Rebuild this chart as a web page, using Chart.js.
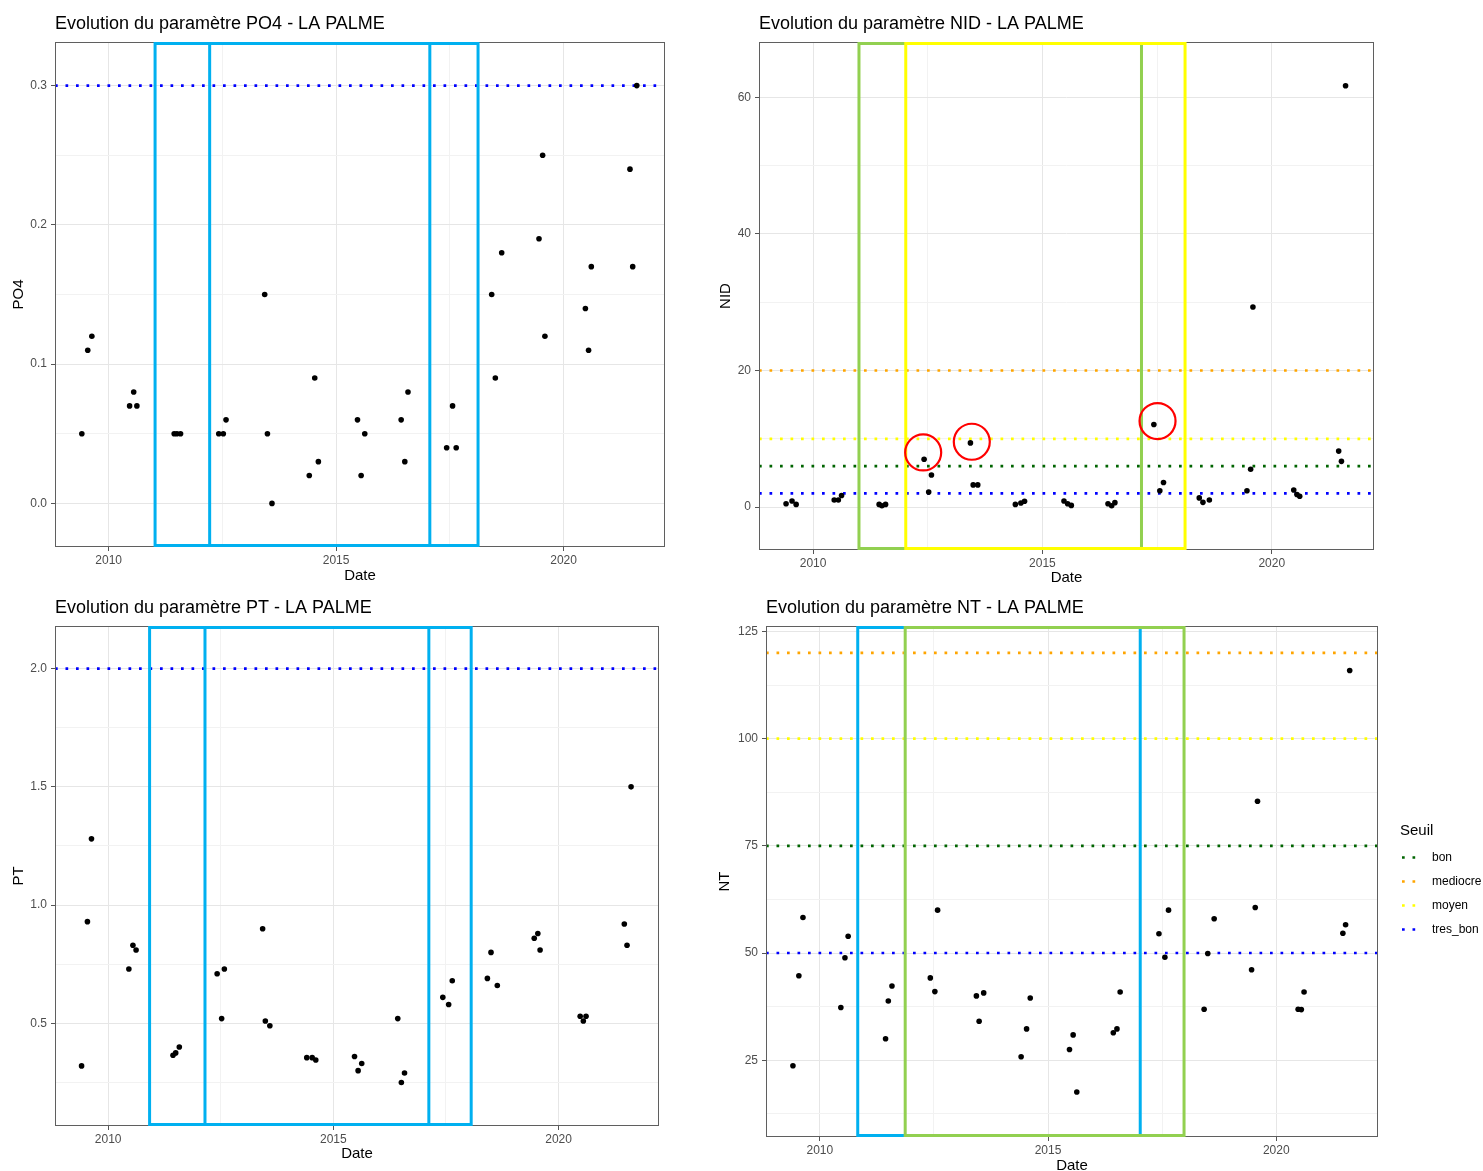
<!DOCTYPE html>
<html>
<head>
<meta charset="utf-8">
<title>Evolution des paramètres - LA PALME</title>
<script src="https://cdn.jsdelivr.net/npm/chart.js@4.4.1/dist/chart.umd.min.js"></script>
<style>
  html, body { margin: 0; padding: 0; background: #ffffff; overflow: hidden; }
  canvas { position: absolute; }
</style>
</head>
<body>
<canvas id="chart-po4" width="680" height="590" style="left:0px; top:0px;"></canvas>
<canvas id="chart-nid" width="690" height="595" style="left:700px; top:0px;"></canvas>
<canvas id="chart-pt" width="680" height="581" style="left:0px; top:590px;"></canvas>
<canvas id="chart-nt" width="783" height="600" style="left:700px; top:590px;"></canvas>
<script>
// sampling dates as decimal years (3 campaigns a year)
const sampleDates = [
    2009.41, 2009.54, 2009.63,
    2010.46, 2010.55, 2010.62,
    2011.44, 2011.50, 2011.58,
    2012.42, 2012.52, 2012.58,
    2013.43, 2013.49, 2013.59,
    2014.41, 2014.53, 2014.61,
    2015.47, 2015.55, 2015.63,
    2016.43, 2016.51, 2016.58,
    2017.43, 2017.56, 2017.64,
    2018.42, 2018.50, 2018.64,
    2019.46, 2019.54, 2019.59,
    2020.48, 2020.55, 2020.61,
    2021.46, 2021.52, 2021.61
];

const po4Values = [
    0.05, 0.11, 0.12,
    0.07, 0.08, 0.07,
    0.05, 0.05, 0.05,
    0.05, 0.05, 0.06,
    0.15, 0.05, 0.00,
    0.02, 0.09, 0.03,
    0.06, 0.02, 0.05,
    0.06, 0.03, 0.08,
    0.04, 0.07, 0.04,
    0.15, 0.09, 0.18,
    0.19, 0.25, 0.12,
    0.14, 0.11, 0.17,
    0.24, 0.17, 0.30
];

const nidValues = [
    0.5, 0.9, 0.4,
    1.05, 1.05, 1.7,
    0.4, 0.2, 0.4,
    7.0, 2.2, 4.7,
    9.4, 3.25, 3.25,
    0.4, 0.6, 0.85,
    0.9, 0.5, 0.25,
    0.5, 0.2, 0.65,
    12.1, 2.4, 3.6,
    1.35, 0.7, 1.05,
    2.4, 5.55, 29.3,
    2.5, 1.85, 1.6,
    8.2, 6.7, 61.7
];

const ptValues = [
    0.32, 0.93, 1.28,
    0.73, 0.83, 0.81,
    0.365, 0.375, 0.40,
    0.71, 0.52, 0.73,
    0.90, 0.51, 0.49,
    0.355, 0.355, 0.345,
    0.36, 0.30, 0.33,
    0.52, 0.25, 0.29,
    0.61, 0.58, 0.68,
    0.69, 0.80, 0.66,
    0.86, 0.88, 0.81,
    0.53, 0.51, 0.53,
    0.92, 0.83, 1.50
];

const ntValues = [
    23.7, 44.7, 58.3,
    37.3, 48.9, 53.9,
    30.0, 38.8, 42.3,
    44.2, 41.0, 60.0,
    40.0, 34.1, 40.7,
    25.8, 32.3, 39.5,
    27.5, 30.9, 17.6,
    31.4, 32.3, 40.9,
    54.5, 49.0, 60.0,
    36.9, 49.9, 58.0,
    46.1, 60.6, 85.4,
    36.9, 36.8, 40.9,
    54.6, 56.6, 115.9
];

// thresholds, same order as seuilLabels (null = off the chart)
const legendTitle = 'Seuil';
const seuilLabels = ['bon', 'mediocre', 'moyen', 'tres_bon'];
const po4Seuils = [null, null, null, 0.3];
const nidSeuils = [6, 20, 10, 2];
const ptSeuils = [null, null, null, 2.0];
const ntSeuils = [75, 120, 100, 50];

// axis ranges and ticks
const xRange = [2008.82, 2022.23];
const xMajorTicks = [2010, 2015, 2020];
const xMinorTicks = [2012.5, 2017.5];

const po4Range = [-0.0313, 0.3313];
const po4MajorTicks = [0, 0.1, 0.2, 0.3];
const po4MinorTicks = [0.05, 0.15, 0.25];

const nidRange = [-6.28, 68.1];
const nidMajorTicks = [0, 20, 40, 60];
const nidMinorTicks = [10, 30, 50];

const ptRange = [0.066, 2.18];
const ptMajorTicks = [0.5, 1.0, 1.5, 2.0];
const ptMinorTicks = [0.25, 0.75, 1.25, 1.75];

const ntRange = [7.09, 126.27];
const ntMajorTicks = [25, 50, 75, 100, 125];
const ntMinorTicks = [12.5, 37.5, 62.5, 87.5, 112.5];

// highlighted periods (start, end) drawn as frames, and circled NID points
const po4Windows = [[2011.02, 2017.06], [2012.22, 2018.12]];
const nidWindows = [[2011.00, 2017.16], [2012.02, 2018.11]];
const ptWindows = [[2010.92, 2017.12], [2012.15, 2018.06]];
const ntWindows = [[2010.83, 2017.02], [2011.87, 2017.98]];
const nidCircled = [[2012.40, 8.0], [2013.46, 9.57], [2017.51, 12.6]];

const seuilColors = ['#006400', '#FFA500', '#FFFF00', '#0000FF'];
const FONT = "'Liberation Sans', Arial, sans-serif";

Chart.defaults.font.family = FONT;

function isMajor(list, value) {
    return list.some(v => Math.abs(v - value) < 1e-9);
}

function tickList(major, minor) {
    return major.concat(minor).sort((a, b) => a - b).map(v => ({ value: v }));
}

function gridStyle(major) {
    return {
        color: c => (c.tick && isMajor(major, c.tick.value)) ? '#e6e6e6' : '#f2f2f2',
        lineWidth: 1,
        tickColor: c => (c.tick && isMajor(major, c.tick.value)) ? '#555555' : 'rgba(0,0,0,0)',
        tickLength: 4,
        tickWidth: 1
    };
}

// title, panel border, frames, circles and legend
function makeExtras(panel) {
    return {
        id: 'ggExtras',
        afterDatasetsDraw(chart) {
            const ctx = chart.ctx;
            const area = chart.chartArea;
            const x = chart.scales.x;
            const y = chart.scales.y;
            ctx.save();
            ctx.strokeStyle = '#5f5f5f';
            ctx.lineWidth = 1;
            ctx.strokeRect(area.left + 0.5, area.top + 0.5, area.width - 1, area.height - 1);

            ctx.lineWidth = 3;
            panel.windows.forEach((w, i) => {
                const x0 = x.getPixelForValue(w[0]);
                const x1 = x.getPixelForValue(w[1]);
                ctx.strokeStyle = panel.windowColors[i];
                ctx.strokeRect(x0, area.top + 1.5, x1 - x0, area.height - 3);
            });

            ctx.strokeStyle = '#ff0000';
            ctx.lineWidth = 2.2;
            (panel.circled || []).forEach(p => {
                ctx.beginPath();
                ctx.arc(x.getPixelForValue(p[0]), y.getPixelForValue(p[1]), 18, 0, Math.PI * 2);
                ctx.stroke();
            });
            ctx.restore();
        },
        afterDraw(chart) {
            const ctx = chart.ctx;
            const area = chart.chartArea;
            ctx.save();
            ctx.fillStyle = '#000000';
            ctx.textAlign = 'left';
            ctx.textBaseline = 'middle';
            ctx.font = '18px ' + FONT;
            ctx.fillText(panel.title, area.left, area.top - 17.5);

            if (panel.legend) {
                const mid = (area.top + area.bottom) / 2;
                const left = area.right + 22;
                ctx.font = '15px ' + FONT;
                ctx.fillText(legendTitle, left, mid - 51);
                ctx.font = '12px ' + FONT;
                chart.data.datasets.filter(d => d.type === 'line').forEach((d, i) => {
                    const yy = mid - 24 + i * 24;
                    ctx.strokeStyle = d.borderColor;
                    ctx.lineWidth = 2.7;
                    ctx.setLineDash([2.7, 7.8]);
                    ctx.beginPath();
                    ctx.moveTo(left + 2, yy);
                    ctx.lineTo(left + 16, yy);
                    ctx.stroke();
                    ctx.setLineDash([]);
                    ctx.fillText(d.label, left + 32, yy);
                });
            }
            ctx.restore();
        }
    };
}

function generateChart(id, panel) {
    const datasets = [{
        type: 'scatter',
        label: panel.yTitle,
        data: sampleDates.map((d, i) => ({ x: d, y: panel.values[i] })),
        pointRadius: 2.8,
        pointHoverRadius: 2.8,
        pointBackgroundColor: '#000000',
        pointBorderWidth: 0,
        borderColor: '#000000'
    }];

    seuilLabels.forEach((label, i) => {
        if (panel.seuils[i] === null) return;
        datasets.push({
            type: 'line',
            label: label,
            data: [{ x: xRange[0], y: panel.seuils[i] }, { x: xRange[1], y: panel.seuils[i] }],
            borderColor: seuilColors[i],
            borderWidth: 2.7,
            borderDash: [2.7, 7.8],
            borderCapStyle: 'butt',
            pointRadius: 0,
            fill: false
        });
    });

    const ctx = document.getElementById(id).getContext('2d');
    return new Chart(ctx, {
        type: 'scatter',
        data: { datasets: datasets },
        options: {
            responsive: false,
            animation: false,
            events: [],
            layout: { padding: panel.padding },
            scales: {
                x: {
                    type: 'linear',
                    bounds: 'data',
                    min: xRange[0],
                    max: xRange[1],
                    afterBuildTicks: s => { s.ticks = tickList(xMajorTicks, xMinorTicks); },
                    afterFit: s => { s.height = panel.xAxisHeight; },
                    border: { display: false },
                    grid: gridStyle(xMajorTicks),
                    ticks: {
                        autoSkip: false,
                        maxRotation: 0,
                        padding: 2,
                        color: '#4d4d4d',
                        font: { size: 12 },
                        callback: v => isMajor(xMajorTicks, v) ? String(v) : ''
                    },
                    title: {
                        display: true,
                        text: 'Date',
                        color: '#000000',
                        font: { size: 15 },
                        padding: { top: 0, bottom: panel.xTitlePad }
                    }
                },
                y: {
                    type: 'linear',
                    bounds: 'data',
                    min: panel.yRange[0],
                    max: panel.yRange[1],
                    afterBuildTicks: s => { s.ticks = tickList(panel.yMajor, panel.yMinor); },
                    afterFit: s => { s.width = panel.yAxisWidth; },
                    border: { display: false },
                    grid: gridStyle(panel.yMajor),
                    ticks: {
                        autoSkip: false,
                        padding: 4,
                        color: '#4d4d4d',
                        font: { size: 12 },
                        callback: v => isMajor(panel.yMajor, v) ? v.toFixed(panel.decimals) : ''
                    },
                    title: {
                        display: true,
                        text: panel.yTitle,
                        color: '#000000',
                        font: { size: 15 },
                        padding: { top: panel.yTitlePad, bottom: 0 }
                    }
                }
            },
            plugins: {
                legend: { display: false },
                tooltip: { enabled: false }
            }
        },
        plugins: [makeExtras(panel)]
    });
}

document.addEventListener('DOMContentLoaded', function() {
    generateChart('chart-po4', {
        title: 'Evolution du paramètre PO4 - LA PALME', yTitle: 'PO4',
        values: po4Values, seuils: po4Seuils,
        yRange: po4Range, yMajor: po4MajorTicks, yMinor: po4MinorTicks, decimals: 1,
        windows: po4Windows, windowColors: ['#00B0F0', '#00B0F0'],
        padding: { top: 42, right: 15, bottom: 0, left: 0 },
        yAxisWidth: 55, xAxisHeight: 43, xTitlePad: 5, yTitlePad: 10
    });

    generateChart('chart-nid', {
        title: 'Evolution du paramètre NID - LA PALME', yTitle: 'NID',
        values: nidValues, seuils: nidSeuils,
        yRange: nidRange, yMajor: nidMajorTicks, yMinor: nidMinorTicks, decimals: 0,
        windows: nidWindows, windowColors: ['#92D050', '#FFFF00'],
        circled: nidCircled,
        padding: { top: 42, right: 16, bottom: 0, left: 0 },
        yAxisWidth: 59, xAxisHeight: 45, xTitlePad: 8, yTitlePad: 17
    });

    generateChart('chart-pt', {
        title: 'Evolution du paramètre PT - LA PALME', yTitle: 'PT',
        values: ptValues, seuils: ptSeuils,
        yRange: ptRange, yMajor: ptMajorTicks, yMinor: ptMinorTicks, decimals: 1,
        windows: ptWindows, windowColors: ['#00B0F0', '#00B0F0'],
        padding: { top: 36, right: 21, bottom: 0, left: 0 },
        yAxisWidth: 55, xAxisHeight: 45, xTitlePad: 8, yTitlePad: 10
    });

    generateChart('chart-nt', {
        title: 'Evolution du paramètre NT - LA PALME', yTitle: 'NT',
        values: ntValues, seuils: ntSeuils,
        yRange: ntRange, yMajor: ntMajorTicks, yMinor: ntMinorTicks, decimals: 0,
        windows: ntWindows, windowColors: ['#00B0F0', '#92D050'],
        legend: true,
        padding: { top: 36, right: 105, bottom: 0, left: 0 },
        yAxisWidth: 66, xAxisHeight: 53, xTitlePad: 15, yTitlePad: 16
    });
});
</script>
</body>
</html>
